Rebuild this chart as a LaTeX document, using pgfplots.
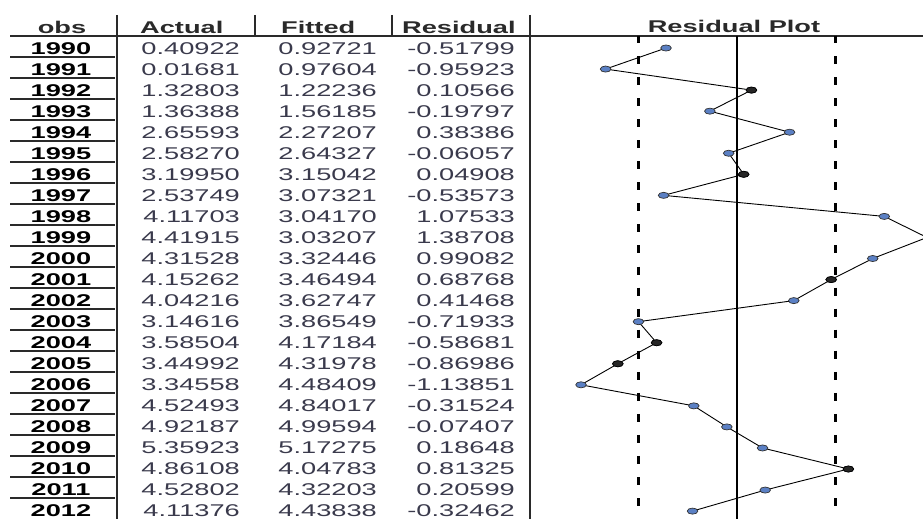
\documentclass[border=0pt]{standalone}
\usepackage{pgfplots}
\pgfplotsset{compat=1.18}
\usepackage{pgfplotstable}
\usepackage{fontspec}
\setmainfont{Liberation Sans}[FakeStretch=1.6]
\definecolor{numgray}{HTML}{3A3A4C}
\definecolor{linegray}{HTML}{2A2A2A}
\definecolor{mkblue}{HTML}{5B80C4}

\pgfplotstableread{
year actual fitted resid
1990 0.40922 0.92721 -0.51799
1991 0.01681 0.97604 -0.95923
1992 1.32803 1.22236 0.10566
1993 1.36388 1.56185 -0.19797
1994 2.65593 2.27207 0.38386
1995 2.58270 2.64327 -0.06057
1996 3.19950 3.15042 0.04908
1997 2.53749 3.07321 -0.53573
1998 4.11703 3.04170 1.07533
1999 4.41915 3.03207 1.38708
2000 4.31528 3.32446 0.99082
2001 4.15262 3.46494 0.68768
2002 4.04216 3.62747 0.41468
2003 3.14616 3.86549 -0.71933
2004 3.58504 4.17184 -0.58681
2005 3.44992 4.31978 -0.86986
2006 3.34558 4.48409 -1.13851
2007 4.52493 4.84017 -0.31524
2008 4.92187 4.99594 -0.07407
2009 5.35923 5.17275 0.18648
2010 4.86108 4.04783 0.81325
2011 4.52802 4.32203 0.20599
2012 4.11376 4.43838 -0.32462
}\restab

% points drawn darker in the original
\pgfplotstableread{
year resid
1992 0.10566
1996 0.04908
2001 0.68768
2004 -0.58681
2005 -0.86986
2010 0.81325
}\darkpts

\begin{document}
\fontsize{17pt}{20pt}\selectfont
\begin{tikzpicture}[every node/.style={inner sep=0pt}]
\useasboundingbox (0,0) rectangle (923pt,-519pt);

% grid lines of the table
\draw[linegray, line width=1.5pt] (10pt,-36pt) -- (923pt,-36pt);
\draw[linegray, line width=2pt] (117pt,-15pt) -- (117pt,-519pt);
\draw[linegray, line width=2pt] (530pt,-15pt) -- (530pt,-519pt);
\draw[linegray, line width=2pt] (255pt,-15pt) -- (255pt,-36pt);
\draw[linegray, line width=2pt] (392pt,-15pt) -- (392pt,-36pt);
\foreach \k in {1,...,22}{
  \pgfmathsetmacro\yl{-(36+21.0*\k)}
  \draw[linegray, line width=1.2pt] (10pt,\yl pt) -- (115pt,\yl pt);
}

% headers
\node[anchor=base, font=\bfseries, text=linegray] at (62pt,-34pt) {obs};
\node[anchor=base west, font=\bfseries, text=linegray] at (140pt,-34pt) {Actual};
\node[anchor=base west, font=\bfseries, text=linegray] at (281pt,-34pt) {Fitted};
\node[anchor=base west, font=\bfseries, text=linegray] at (402pt,-34pt) {Residual};
\node[anchor=base, font=\bfseries, text=linegray] at (734pt,-33pt) {Residual Plot};

% table body
\pgfplotstablegetrowsof{\restab}
\pgfmathtruncatemacro\nrows{\pgfplotsretval-1}
\foreach \i in {0,...,\nrows}{
  \pgfmathsetmacro\yb{-(54.5+21.0*\i)}
  \pgfplotstablegetelem{\i}{year}\of\restab
  \node[anchor=base, font=\bfseries, text=black] at (61pt,\yb pt) {\pgfplotsretval};
  \pgfplotstablegetelem{\i}{actual}\of\restab
  \node[anchor=base east, text=numgray] at (240pt,\yb pt) {\pgfplotsretval};
  \pgfplotstablegetelem{\i}{fitted}\of\restab
  \node[anchor=base east, text=numgray] at (377pt,\yb pt) {\pgfplotsretval};
  \pgfplotstablegetelem{\i}{resid}\of\restab
  \node[anchor=base east, text=numgray] at (515pt,\yb pt) {\pgfplotsretval};
}

% residual plot
\begin{axis}[
  at={(540pt,-519pt)}, anchor=south west,
  scale only axis, width=383pt, height=483pt,
  xmin=-1.438, xmax=1.358,
  ymin=1989.43, ymax=2012.375, y dir=reverse,
  axis lines=none, ticks=none,
]
\draw[black, line width=2.6pt] (axis cs:0,1989.43) -- (axis cs:0,2012.375);
\draw[black, line width=2.6pt, dash pattern=on 8pt off 13.05pt]
  (axis cs:-0.72,1989.38) -- (axis cs:-0.72,2012.375);
\draw[black, line width=2.6pt, dash pattern=on 8pt off 13.05pt]
  (axis cs:0.72,1989.38) -- (axis cs:0.72,2012.375);
\addplot[black, line width=0.9pt, mark=*, mark size=3.8pt,
  mark options={xscale=1.4, yscale=0.8, fill=mkblue, draw=black!80, line width=0.7pt}]
  table[x=resid, y=year] {\restab};
\addplot[only marks, mark=*, mark size=3.8pt,
  mark options={xscale=1.4, yscale=0.8, fill=black!85, draw=black, line width=0.7pt}]
  table[x=resid, y=year] {\darkpts};
\end{axis}
\end{tikzpicture}
\end{document}
